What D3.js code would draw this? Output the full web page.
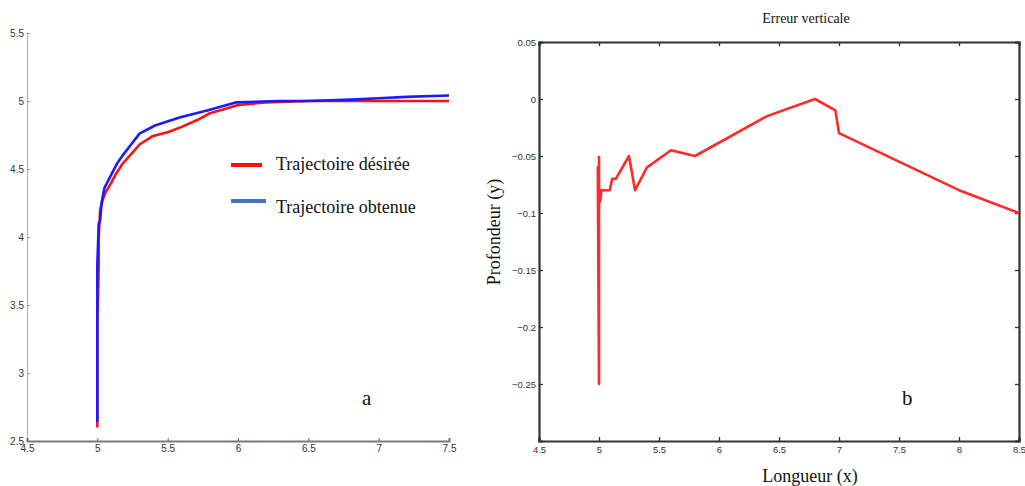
<!DOCTYPE html>
<html><head><meta charset="utf-8">
<script src="https://cdn.jsdelivr.net/npm/d3@7/dist/d3.min.js"></script>
<style>body{margin:0;background:#fff}svg{display:block}</style>
</head><body>
<svg id="c" width="1025" height="486"></svg>
<script>
// ---- Panel a data ----
const desiredX = [5.0, 5.0, 5.005, 5.01, 5.01, 5.02, 5.04, 5.06, 5.1, 5.13, 5.18, 5.25, 5.3, 5.39, 5.5, 5.6, 5.71, 5.8, 5.9, 6.0, 6.2, 6.5, 7.0, 7.5];
const desiredY = [2.6, 3.4, 3.55, 3.8, 4.0, 4.2, 4.28, 4.33, 4.4, 4.46, 4.54, 4.62, 4.68, 4.74, 4.77, 4.81, 4.86, 4.91, 4.94, 4.97, 4.99, 5.0, 5.0, 5.0];
const obtainedX = [5.0, 5.0, 5.0, 5.01, 5.02, 5.03, 5.05, 5.1, 5.14, 5.18, 5.24, 5.3, 5.41, 5.59, 5.78, 5.99, 6.3, 6.5, 6.8, 7.0, 7.2, 7.5];
const obtainedY = [2.64, 3.5, 3.8, 4.1, 4.12, 4.25, 4.36, 4.46, 4.54, 4.6, 4.68, 4.76, 4.82, 4.88, 4.93, 4.99, 5.0, 5.0, 5.01, 5.02, 5.03, 5.04];
const aXTicks = [4.5, 5, 5.5, 6, 6.5, 7, 7.5];
const aYTicks = [2.5, 3, 3.5, 4, 4.5, 5, 5.5];
const legendLabels = ["Trajectoire désirée", "Trajectoire obtenue"];

// ---- Panel b data ----
const errX = [5.0, 5.0, 4.99, 5.01, 5.02, 5.09, 5.11, 5.14, 5.25, 5.3, 5.4, 5.6, 5.8, 6.4, 6.8, 6.97, 7.0, 8.0, 8.5];
const errY = [-0.05, -0.25, -0.06, -0.09, -0.08, -0.08, -0.07, -0.07, -0.05, -0.08, -0.06, -0.045, -0.05, -0.015, 0.0, -0.01, -0.03, -0.08, -0.1];
const bXTicks = [4.5, 5, 5.5, 6, 6.5, 7, 7.5, 8, 8.5];
const bYTicks = [0.05, 0, -0.05, -0.1, -0.15, -0.2, -0.25];
const bTitle = "Erreur verticale";
const bXLabel = "Longueur (x)";
const bYLabel = "Profondeur (y)";

const svg = d3.select("#c");
const serif = "'Liberation Serif','DejaVu Serif',serif";
const sans = "'Liberation Sans',Arial,sans-serif";

// ===== Panel a =====
const ax = d3.scaleLinear().domain([4.5, 7.5]).range([27, 449]);
const ay = d3.scaleLinear().domain([2.5, 5.5]).range([441, 33]);
const ga = svg.append("g");

const aYAxis = ga.append("g").attr("transform", "translate(27,0)")
  .call(d3.axisLeft(ay).tickValues(aYTicks).tickSize(-3).tickPadding(3).tickFormat(d3.format("")));
aYAxis.select(".domain").attr("stroke", "#b5b5b5").attr("stroke-width", 1.2);
aYAxis.selectAll(".tick line").attr("stroke", "#999");
aYAxis.selectAll("text").attr("fill", "#333").style("font-family", sans).style("font-size", "10px");

const aXAxis = ga.append("g").attr("transform", "translate(0,441)")
  .call(d3.axisBottom(ax).tickValues(aXTicks).tickSize(-3).tickPadding(4).tickFormat(d3.format("")));
aXAxis.select(".domain").attr("stroke", "#7a7a7a").attr("stroke-width", 2);
aXAxis.selectAll(".tick line").attr("stroke", "#666");
aXAxis.selectAll("text").attr("fill", "#333").style("font-family", sans).style("font-size", "10px");

const lineA = d3.line().x(d => ax(d[0])).y(d => ay(d[1]));
ga.append("path").datum(desiredX.map((x, i) => [x, desiredY[i]]))
  .attr("d", lineA).attr("fill", "none").attr("stroke", "#ff1010").attr("stroke-width", 2.6).attr("stroke-linejoin", "round");
ga.append("path").datum(obtainedX.map((x, i) => [x, obtainedY[i]]))
  .attr("d", lineA).attr("fill", "none").attr("stroke", "#1a1aff").attr("stroke-width", 2.6).attr("stroke-linejoin", "round");

// legend
const legColors = ["#ff1010", "#4472c4"];
const legY = [165, 201];
legendLabels.forEach((t, i) => {
  ga.append("line").attr("x1", 231).attr("x2", i === 0 ? 262 : 266).attr("y1", legY[i]).attr("y2", legY[i])
    .attr("stroke", legColors[i]).attr("stroke-width", 4);
  ga.append("text").attr("x", 276).attr("y", legY[i] + (i === 0 ? 5 : 12)).text(t)
    .style("font-family", serif).style("font-size", "18px").attr("fill", "#111");
});
ga.append("text").attr("x", 362).attr("y", 405).text("a").style("font-family", serif).style("font-size", "21px").attr("fill", "#111");

// ===== Panel b =====
const bx = d3.scaleLinear().domain([4.5, 8.5]).range([539, 1019]);
const by = d3.scaleLinear().domain([-0.3, 0.05]).range([441, 42]);
const gb = svg.append("g");
const fmtB = d => d === 0 ? "0" : d3.format("")(+d.toFixed(2));

const bYAxis = gb.append("g").attr("transform", "translate(539,0)")
  .call(d3.axisLeft(by).tickValues(bYTicks).tickSize(-4).tickPadding(3).tickFormat(fmtB));
const bYAxisR = gb.append("g").attr("transform", "translate(1019,0)")
  .call(d3.axisRight(by).tickValues(bYTicks).tickSize(-4).tickFormat(""));
const bXAxis = gb.append("g").attr("transform", "translate(0,441)")
  .call(d3.axisBottom(bx).tickValues(bXTicks).tickSize(-4).tickPadding(5).tickFormat(d3.format("")));
const bXAxisT = gb.append("g").attr("transform", "translate(0,42)")
  .call(d3.axisTop(bx).tickValues(bXTicks).tickSize(-4).tickFormat(""));
[bYAxis, bYAxisR, bXAxis, bXAxisT].forEach(g => {
  g.select(".domain").attr("stroke", "#333").attr("stroke-width", 2.2);
  g.selectAll(".tick line").attr("stroke", "#333").attr("stroke-width", 1.3);
  g.selectAll("text").attr("fill", "#333").style("font-family", sans).style("font-size", "9.5px");
});

const lineB = d3.line().x(d => bx(d[0])).y(d => by(d[1]));
gb.append("path").datum(errX.map((x, i) => [x, errY[i]]))
  .attr("d", lineB).attr("fill", "none").attr("stroke", "#ff2a2a").attr("stroke-width", 2.6).attr("stroke-linejoin", "round");

gb.append("text").attr("x", 806).attr("y", 23).attr("text-anchor", "middle").text(bTitle)
  .style("font-family", serif).style("font-size", "14px").attr("fill", "#111");
gb.append("text").attr("x", 810).attr("y", 482).attr("text-anchor", "middle").text(bXLabel)
  .style("font-family", serif).style("font-size", "18px").attr("fill", "#111");
gb.append("text").attr("transform", "translate(500,232) rotate(-90)").attr("text-anchor", "middle").text(bYLabel)
  .style("font-family", serif).style("font-size", "18px").attr("fill", "#111");
gb.append("text").attr("x", 902).attr("y", 405).text("b").style("font-family", serif).style("font-size", "21px").attr("fill", "#111");
</script>
</body></html>
